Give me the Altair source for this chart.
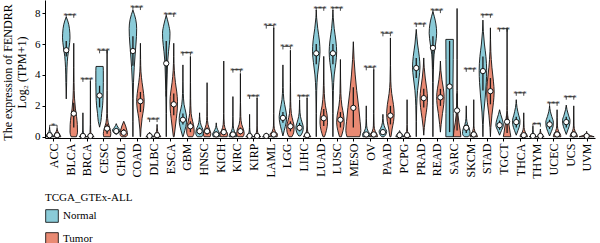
import json
import altair as alt
import pandas as pd

cancers = ["ACC", "BLCA", "BRCA", "CESC", "CHOL", "COAD", "DLBC", "ESCA", "GBM", "HNSC",
           "KICH", "KIRC", "KIRP", "LAML", "LGG", "LIHC", "LUAD", "LUSC", "MESO", "OV",
           "PAAD", "PCPG", "PRAD", "READ", "SARC", "SKCM", "STAD", "TGCT", "THCA", "THYM",
           "UCEC", "UCS", "UVM"]

# violin outlines: (log2 TPM, relative half-width) from bottom to top
normal_shape = {
    "ACC": [(0, 1), (0.15, 0.7), (0.35, 0.15), (0.6, 0)],
    "BLCA": [(2.45, 0), (3.5, 0.1), (4.5, 0.2), (5.2, 0.4), (5.8, 0.75), (6.4, 1), (7.0, 0.85), (7.5, 0.4), (7.75, 0)],
    "BRCA": [(0, 1), (0.1, 0.6), (0.25, 0.15), (0.5, 0.05), (1.55, 0)],
    "CESC": [(0.62, 0), (1.0, 0.35), (1.5, 0.55), (2.0, 0.8), (2.7, 0.95), (3.5, 1), (4.3, 1), (4.55, 0.95)],
    "CHOL": [(0.15, 0), (0.3, 0.8), (0.45, 1), (0.6, 0.5), (0.85, 0)],
    "COAD": [(0, 0), (1, 0.02), (2.5, 0.06), (3.5, 0.15), (4.5, 0.35), (5.5, 0.65), (6.5, 0.95), (7.0, 1), (7.6, 0.75), (8.2, 0)],
    "DLBC": [(0, 1), (0.1, 0.5), (0.3, 0)],
    "ESCA": [(0, 0), (1.5, 0.05), (3, 0.12), (4, 0.25), (4.8, 0.35), (5.5, 0.6), (6.3, 0.95), (6.7, 1), (7.3, 0.6), (7.85, 0)],
    "GBM": [(0, 0.05), (0.4, 0.5), (0.9, 0.95), (1.2, 1), (1.6, 0.75), (2.1, 0.3), (2.8, 0.1), (3.6, 0.03), (4.65, 0)],
    "HNSC": [(0, 0.6), (0.2, 1), (0.45, 0.9), (0.75, 0.4), (1.1, 0.1), (1.55, 0)],
    "KICH": [(0, 0.8), (0.15, 1), (0.35, 0.6), (0.6, 0.15), (0.9, 0)],
    "KIRC": [(0, 1), (0.15, 0.9), (0.35, 0.4), (0.7, 0.1), (1.3, 0.03), (2.6, 0)],
    "KIRP": [(0, 1), (0.1, 0.6), (0.3, 0.15), (0.6, 0.04), (1.45, 0)],
    "LAML": [(0, 1), (0.1, 0.4), (0.25, 0)],
    "LGG": [(0.05, 0), (0.4, 0.35), (0.9, 0.85), (1.3, 1), (1.8, 0.7), (2.4, 0.25), (3.2, 0.07), (4.65, 0)],
    "LIHC": [(0.05, 0.2), (0.3, 0.8), (0.6, 1), (0.9, 0.7), (1.3, 0.25), (1.8, 0.06), (2.4, 0)],
    "LUAD": [(0, 0), (1.5, 0.03), (3, 0.12), (4, 0.35), (4.8, 0.75), (5.5, 1), (6.2, 0.85), (7, 0.4), (7.7, 0.1), (8.2, 0)],
    "LUSC": [(0, 0), (1.5, 0.03), (3, 0.12), (4, 0.35), (4.8, 0.8), (5.5, 1), (6.2, 0.8), (7, 0.35), (7.7, 0.1), (8.2, 0)],
    "OV": [(0, 0.9), (0.15, 1), (0.35, 0.5), (0.7, 0.12), (1.2, 0.03), (2.0, 0)],
    "PAAD": [(0, 0.3), (0.2, 0.9), (0.35, 1), (0.55, 0.6), (0.9, 0.15), (1.45, 0)],
    "PCPG": [(0, 1), (0.1, 0.85), (0.25, 0.3), (0.4, 0)],
    "PRAD": [(0, 0), (1, 0.04), (2, 0.12), (3, 0.35), (3.8, 0.75), (4.5, 1), (5.2, 0.8), (6, 0.35), (6.95, 0)],
    "READ": [(0, 0), (2, 0.03), (3.5, 0.08), (4.5, 0.15), (5.3, 0.3), (6.0, 0.7), (6.7, 1), (7.3, 0.8), (7.8, 0.35), (8.1, 0)],
    "SARC": [(0, 1), (1.5, 0.97), (3.2, 0.9), (5.0, 0.97), (6.3, 1)],
    "SKCM": [(0, 0.5), (0.2, 1), (0.5, 0.85), (0.8, 0.35), (1.2, 0.08), (2.0, 0)],
    "STAD": [(0, 0), (0.8, 0.08), (1.6, 0.25), (2.5, 0.6), (3.5, 0.9), (4.3, 1), (5.2, 0.8), (6.0, 0.4), (6.8, 0.12), (7.55, 0)],
    "TGCT": [(0.1, 0), (0.4, 0.5), (0.75, 1), (1.1, 0.75), (1.45, 0.3), (1.75, 0)],
    "THCA": [(0.1, 0), (0.4, 0.45), (0.8, 0.95), (1.05, 1), (1.4, 0.65), (1.9, 0.2), (2.4, 0)],
    "THYM": [(0, 1), (0.1, 0.5), (0.3, 0.1), (0.68, 0)],
    "UCEC": [(0.05, 0), (0.35, 0.5), (0.7, 0.95), (0.95, 1), (1.3, 0.6), (1.65, 0.2), (2.0, 0)],
    "UCS": [(0.15, 0), (0.45, 0.45), (0.85, 0.95), (1.05, 1), (1.4, 0.6), (1.75, 0.2), (2.05, 0)],
}

tumor_shape = {
    "ACC": [(0, 1), (0.15, 0.7), (0.35, 0.2), (0.55, 0)],
    "BLCA": [(0, 0.7), (0.3, 1), (0.8, 0.95), (1.3, 0.75), (1.8, 0.45), (2.5, 0.2), (3.5, 0.08), (4.5, 0.04), (6.05, 0)],
    "BRCA": [(0, 1), (0.1, 0.5), (0.3, 0.1), (0.8, 0.04), (3.6, 0)],
    "CESC": [(0, 0.9), (0.2, 1), (0.5, 0.8), (0.9, 0.3), (1.5, 0.08), (3, 0.03), (5.6, 0)],
    "CHOL": [(0, 0.6), (0.15, 1), (0.4, 0.85), (0.7, 0.5), (1.0, 0)],
    "COAD": [(0, 0.05), (0.5, 0.15), (1.2, 0.45), (1.8, 0.85), (2.3, 1), (2.8, 0.85), (3.5, 0.45), (4.2, 0.15), (5, 0.05), (6.05, 0)],
    "DLBC": [(0, 1), (0.15, 0.6), (0.35, 0.15), (0.8, 0)],
    "ESCA": [(0, 0.1), (0.5, 0.35), (1.2, 0.7), (1.8, 0.95), (2.3, 1), (2.9, 0.8), (3.5, 0.45), (4.3, 0.15), (5.2, 0.04), (6.05, 0)],
    "GBM": [(0, 0.6), (0.3, 1), (0.6, 0.95), (1.0, 0.6), (1.5, 0.2), (2.5, 0.06), (3.5, 0.03), (5.2, 0)],
    "HNSC": [(0, 0.8), (0.2, 1), (0.45, 0.7), (0.8, 0.25), (1.3, 0.06), (2.2, 0.02), (3.5, 0)],
    "KICH": [(0, 0.9), (0.2, 1), (0.4, 0.6), (0.8, 0.15), (1.5, 0.04), (4.9, 0)],
    "KIRC": [(0, 0.7), (0.2, 1), (0.45, 0.85), (0.8, 0.35), (1.3, 0.1), (2.2, 0.03), (4.1, 0)],
    "KIRP": [(0, 1), (0.1, 0.6), (0.3, 0.15), (0.7, 0.04), (2.5, 0)],
    "LAML": [(0, 0.9), (0.15, 1), (0.35, 0.4), (0.7, 0.08), (1.5, 0.02), (7.05, 0)],
    "LGG": [(0, 0.4), (0.3, 0.9), (0.65, 1), (1.0, 0.7), (1.5, 0.25), (2.3, 0.07), (3.5, 0.02), (5.6, 0)],
    "LIHC": [(0, 1), (0.1, 0.7), (0.3, 0.2), (0.7, 0.05), (2.5, 0)],
    "LUAD": [(0, 0.2), (0.4, 0.7), (0.9, 1), (1.4, 0.9), (2.0, 0.45), (2.8, 0.15), (3.8, 0.05), (5.2, 0)],
    "LUSC": [(0, 0.25), (0.4, 0.7), (0.9, 1), (1.4, 0.85), (2.0, 0.4), (2.8, 0.12), (3.8, 0.04), (5.0, 0)],
    "MESO": [(0, 0.85), (0.4, 1), (1.0, 0.9), (1.9, 0.72), (3, 0.45), (4, 0.25), (5, 0.1), (6.15, 0)],
    "OV": [(0, 1), (0.15, 0.9), (0.35, 0.4), (0.7, 0.1), (1.5, 0.03), (4.35, 0)],
    "PAAD": [(0, 0.15), (0.5, 0.45), (1.0, 0.85), (1.5, 1), (2.1, 0.8), (2.8, 0.35), (3.6, 0.1), (4.6, 0.03), (6.4, 0)],
    "PCPG": [(0, 1), (0.15, 0.6), (0.35, 0.12), (0.8, 0.03), (2.4, 0)],
    "PRAD": [(0.1, 0), (0.6, 0.15), (1.2, 0.45), (1.9, 0.85), (2.5, 1), (3.1, 0.8), (3.8, 0.4), (4.5, 0.12), (5.1, 0)],
    "READ": [(0.3, 0), (0.8, 0.2), (1.5, 0.55), (2.1, 0.9), (2.6, 1), (3.1, 0.8), (3.7, 0.4), (4.3, 0.12), (4.9, 0)],
    "SARC": [(0, 1), (0.4, 0.85), (0.9, 0.5), (1.4, 0.25), (2, 0.12), (3, 0.05), (5, 0.02), (8.3, 0)],
    "SKCM": [(0, 1), (0.15, 0.8), (0.35, 0.3), (0.7, 0.06), (2.4, 0)],
    "STAD": [(0, 0), (0.6, 0.12), (1.4, 0.4), (2.2, 0.8), (2.9, 1), (3.6, 0.8), (4.5, 0.4), (5.5, 0.12), (7.05, 0)],
    "TGCT": [(0, 1), (0.3, 0.8), (0.7, 0.55), (1.0, 0.4), (1.4, 0.15), (2, 0.04), (4, 0.02), (7.05, 0)],
    "THCA": [(0, 1), (0.1, 0.9), (0.3, 0.4), (0.6, 0.1), (1.55, 0)],
    "THYM": [(0, 1), (0.1, 0.5), (0.3, 0.1), (0.5, 0)],
    "UCEC": [(0, 1), (0.15, 0.9), (0.35, 0.4), (0.7, 0.1), (1.75, 0)],
    "UCS": [(0, 1), (0.15, 0.85), (0.35, 0.35), (0.7, 0.08), (2.0, 0)],
    "UVM": [(0, 1), (0.08, 0.5), (0.2, 0.1), (0.35, 0)],
}

# medians and quartiles per cancer (None where the group has no samples)
normal_median = [0.1, 5.6, 0.05, 2.67, 0.37, 5.55, 0.05, 4.75, 1.1, 0.36, 0.15, 0.15, 0.05, 0.05, 1.22, 0.58,
                 5.4, 5.4, None, 0.15, 0.3, 0.1, 4.45, 5.75, 3.25, 0.58, 4.25, 0.75, 0.95, 0.05, 0.8, 0.95, None]
normal_q1 = [0.02, 5.2, 0, 1.9, 0.3, 4.6, 0, 2.6, 0.8, 0.15, 0.05, 0.05, 0, 0, 0.9, 0.35,
             4.7, 4.7, None, 0.05, 0.15, 0.03, 3.8, 4.4, 0.3, 0.25, 3.0, 0.45, 0.6, 0, 0.5, 0.6, None]
normal_q3 = [0.2, 6.2, 0.12, 3.3, 0.5, 6.5, 0.1, 6.2, 1.5, 0.6, 0.35, 0.3, 0.12, 0.1, 1.6, 0.9,
             6.0, 6.0, None, 0.3, 0.5, 0.2, 5.1, 6.5, 6.2, 0.8, 5.2, 1.05, 1.3, 0.1, 1.1, 1.3, None]
tumor_median = [0.1, 1.5, 0.05, 0.53, 0.26, 2.3, 0.1, 2.1, 0.68, 0.36, 0.3, 0.36, 0.05, 0.15, 0.68, 0.1,
                1.2, 1.1, 1.87, 0.15, 1.37, 0.1, 2.5, 2.55, 1.7, 0.15, 2.95, 0.97, 0.1, 0.05, 0.15, 0.15, 0.05]
tumor_q1 = [0.02, 0.6, 0, 0.2, 0.1, 1.6, 0.02, 1.4, 0.3, 0.15, 0.1, 0.15, 0, 0.05, 0.35, 0.02,
            0.7, 0.6, 0.6, 0.05, 0.8, 0.02, 1.9, 2.0, 0.4, 0.05, 2.1, 0.25, 0.02, 0, 0.05, 0.05, 0]
tumor_q3 = [0.2, 2.2, 0.15, 0.85, 0.5, 2.9, 0.25, 2.8, 1.0, 0.6, 0.5, 0.6, 0.15, 0.3, 1.0, 0.25,
            1.8, 1.6, 3.2, 0.3, 2.0, 0.2, 3.1, 3.1, 2.8, 0.35, 3.8, 1.4, 0.25, 0.1, 0.35, 0.35, 0.1]

# significance of Normal vs Tumor
sig_label = ["*", "***", "***", "***", "", "***", "***", "***", "***", "", "", "***", "***", "***", "***", "***",
             "***", "***", "", "***", "***", "", "***", "***", "", "***", "***", "***", "***", "**", "***", "***", ""]
sig_y = [0.75, 7.9, 3.75, 5.6, None, 8.4, 1.15, 7.95, 5.45, None, None, 4.35, 2.65, 7.2, 5.85, 2.65,
         8.35, 8.35, None, 4.5, 6.7, None, 7.3, 8.2, None, 4.4, 7.9, 7.0, 2.85, 0.85, 2.2, 2.6, None]

FONT = "Liberation Serif"
GROUPS = ["Normal", "Tumor"]
COLORS = ["#8acbd8", "#e98a73"]
DODGE = 0.225

shape_by_group = {"Normal": normal_shape, "Tumor": tumor_shape}
stats_by_group = {"Normal": (normal_median, normal_q1, normal_q3),
                  "Tumor": (tumor_median, tumor_q1, tumor_q3)}

outline_rows, stat_rows = [], []
for i, c in enumerate(cancers):
    present = [g for g in GROUPS if c in shape_by_group[g]]
    single = len(present) == 1
    for g in present:
        center = i if single else (i - DODGE if g == "Normal" else i + DODGE)
        half = 2 * DODGE if single else DODGE
        for yv, w in shape_by_group[g][c]:
            outline_rows.append({"vid": f"{c}-{g}", "group": g, "y": yv,
                                 "x": center - w * half, "x2": center + w * half})
        med, q1, q3 = (s[i] for s in stats_by_group[g])
        stat_rows.append({"group": g, "xc": center, "med": med, "q1": q1, "q3": q3})

outline = pd.DataFrame(outline_rows)
stats = pd.DataFrame(stat_rows)

sig = pd.DataFrame([
    {"xl": i - DODGE, "xr": i + DODGE, "xc": i, "y": sig_y[i], "ytick": sig_y[i] - 0.2, "label": sig_label[i]}
    for i in range(len(cancers)) if sig_label[i]
])

x_scale = alt.Scale(domain=[-0.5, len(cancers) - 0.5], nice=False, zero=False)
y_scale = alt.Scale(domain=[-0.08, 8.85], nice=False, zero=False)

label_expr = json.dumps(cancers) + "[datum.value]"

x_axis = alt.Axis(values=list(range(len(cancers))), labelExpr=label_expr, labelAngle=-90,
                  labelOverlap=False, title=None, grid=False, tickSize=3, labelPadding=2,
                  labelFontSize=12, labelFont=FONT, labelColor="black",
                  domainColor="black", tickColor="black")
y_axis = alt.Axis(values=[0, 2, 4, 6, 8], grid=False, tickSize=3, labelPadding=2,
                  labelFontSize=11, labelFont=FONT, labelColor="black",
                  domainColor="black", tickColor="black",
                  title=["The expression of FENDRR", "Log\u2082 (TPM+1)"],
                  titleFont=FONT, titleFontSize=12, titleFontWeight="normal",
                  titleLineHeight=14, titleColor="black", titlePadding=6, titleY=72)


def X(field):
    return alt.X(field, scale=x_scale, axis=x_axis)


def Y(field):
    return alt.Y(field, scale=y_scale, axis=y_axis)


violins = alt.Chart(outline).mark_area(
    orient="horizontal", stroke="#111", strokeWidth=0.9, interpolate="monotone"
).encode(
    y=Y("y:Q"),
    x=alt.X("x:Q", scale=x_scale, axis=x_axis, stack=None),
    x2="x2:Q",
    color=alt.Color("group:N", scale=alt.Scale(domain=GROUPS, range=COLORS),
                    legend=alt.Legend(title="TCGA_GTEx-ALL", orient="none", legendX=0, legendY=192,
                                      direction="vertical", symbolType="square", symbolSize=160,
                                      symbolStrokeColor="black", symbolStrokeWidth=0.8,
                                      symbolOpacity=1,
                                      titleFont=FONT, titleFontSize=11, titleFontWeight="normal",
                                      titleColor="black", labelFont=FONT, labelFontSize=11,
                                      labelColor="black", rowPadding=7, titlePadding=6)),
    detail="vid:N",
)

boxes = alt.Chart(stats).mark_rule(color="#1a1a1a", strokeWidth=1.3).encode(
    x=X("xc:Q"), y=Y("q1:Q"), y2="q3:Q"
)

medians = alt.Chart(stats).mark_point(
    shape="circle", filled=True, fill="white", stroke="black", strokeWidth=0.9, size=28, opacity=1
).encode(x=X("xc:Q"), y=Y("med:Q"))

bracket_top = alt.Chart(sig).mark_rule(color="#222", strokeWidth=0.8).encode(
    x=X("xl:Q"), x2="xr:Q", y=Y("y:Q")
)
bracket_left = alt.Chart(sig).mark_rule(color="#222", strokeWidth=0.8).encode(
    x=X("xl:Q"), y=Y("ytick:Q"), y2="y:Q"
)
bracket_right = alt.Chart(sig).mark_rule(color="#222", strokeWidth=0.8).encode(
    x=X("xr:Q"), y=Y("ytick:Q"), y2="y:Q"
)
stars = alt.Chart(sig).mark_text(
    baseline="alphabetic", dy=4, fontSize=9, font=FONT, color="#333"
).encode(x=X("xc:Q"), y=Y("y:Q"), text="label:N")

chart = alt.layer(
    violins, boxes, medians, bracket_top, bracket_left, bracket_right, stars
).properties(
    width=550, height=138,
    autosize=alt.AutoSizeParams(type="none"),
    padding={"left": 45, "top": 0, "right": 5, "bottom": 105},
).configure_view(stroke=None)

chart.save("out.html", embed_options={"renderer": "svg", "actions": False})
